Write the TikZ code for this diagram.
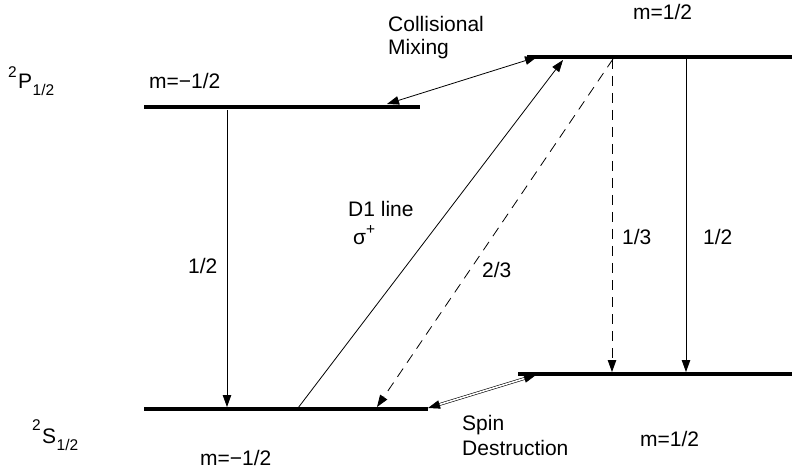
\documentclass[tikz,border=0pt]{standalone}
\usepackage{fontspec}
\setmainfont{Liberation Sans}
\usetikzlibrary{arrows.meta}
\newcommand{\smallsz}{\fontsize{15.5}{15.5}\selectfont}
\begin{document}
\begin{tikzpicture}[x=1pt,y=-1pt,
  level/.style={line width=3.5pt},
  tip/.tip={Triangle[length=12pt,width=8.5pt]},
  trans/.style={line width=0.8pt,-tip},
  dtrans/.style={trans,dash pattern=on 10pt off 7pt},
  twoway/.style={line width=0.8pt,tip-tip},
  twowaydbl/.style={line width=0.6pt,double,double distance=1.6pt,tip-tip},
  lbl/.style={font=\fontsize{21}{25}\selectfont, inner sep=0pt, anchor=base west}]
\useasboundingbox (0,0) rectangle (792,470);
% level end points
\coordinate (PLa) at (144,107); \coordinate (PLb) at (420,107);
\coordinate (PRa) at (527,57);  \coordinate (PRb) at (792,57);
\coordinate (SLa) at (144,409); \coordinate (SLb) at (428,409);
\coordinate (SRa) at (518,374); \coordinate (SRb) at (792,374);
% levels
\draw[level] (PLa) -- (PLb);
\draw[level] (PRa) -- (PRb);
\draw[level] (SLa) -- (SLb);
\draw[level] (SRa) -- (SRb);
% transition end points
\coordinate (lvTop) at (227,110); \coordinate (lvBot) at (227,407);
\coordinate (d1Bot) at (298,408); \coordinate (d1Top) at (563,60);
\coordinate (tTop) at (613,59);   \coordinate (tBot) at (377,407);
\coordinate (aTop) at (612,59);   \coordinate (aBot) at (612,372);
\coordinate (bTop) at (686,59);   \coordinate (bBot) at (686,372);
\coordinate (cmL) at (387,104);   \coordinate (cmR) at (537,57);
\coordinate (sdL) at (428,408);   \coordinate (sdR) at (536,375);
% transitions
\draw[trans] (lvTop) -- (lvBot);
\draw[trans] (d1Bot) -- (d1Top);
\draw[dtrans] (tTop) -- (tBot);
\draw[dtrans] (aTop) -- (aBot);
\draw[trans] (bTop) -- (bBot);
\draw[twoway] (cmL) -- (cmR);
\draw[twowaydbl] (sdL) -- (sdR);
% labels
\node[lbl] (Pterm) at (18,89) {\llap{\smallsz\raisebox{11pt}{2}\hspace{1.5pt}}P\hspace{0.5pt}{\smallsz\raisebox{-7pt}{1/2}}};
\node[lbl] (Sterm) at (42,443) {\llap{\smallsz\raisebox{13pt}{2}\hspace{1.5pt}}S\hspace{0.5pt}{\smallsz\raisebox{-7pt}{1/2}}};
\node[lbl] (mPL) at (149,89) {m=−1/2};
\node[lbl] (mPR) at (633,20) {m=1/2};
\node[lbl] (mSL) at (200,465) {m=−1/2};
\node[lbl] (mSR) at (640,446) {m=1/2};
\node[lbl] (cm1) at (388,32) {Collisional};
\node[lbl] (cm2) at (388,55) {Mixing};
\node[lbl] (sd1) at (462,430) {Spin};
\node[lbl] (sd2) at (462,455) {Destruction};
\node[lbl] (d1a) at (348,217) {D1 line};
\node[lbl] (d1b) at (353,245) {σ{\smallsz\raisebox{10pt}{+}}};
\node[lbl] (hL) at (188,273) {1/2};
\node[lbl] (tt) at (482,277) {2/3};
\node[lbl] (ot) at (622,245) {1/3};
\node[lbl] (hR) at (703,245) {1/2};
\end{tikzpicture}
\end{document}
